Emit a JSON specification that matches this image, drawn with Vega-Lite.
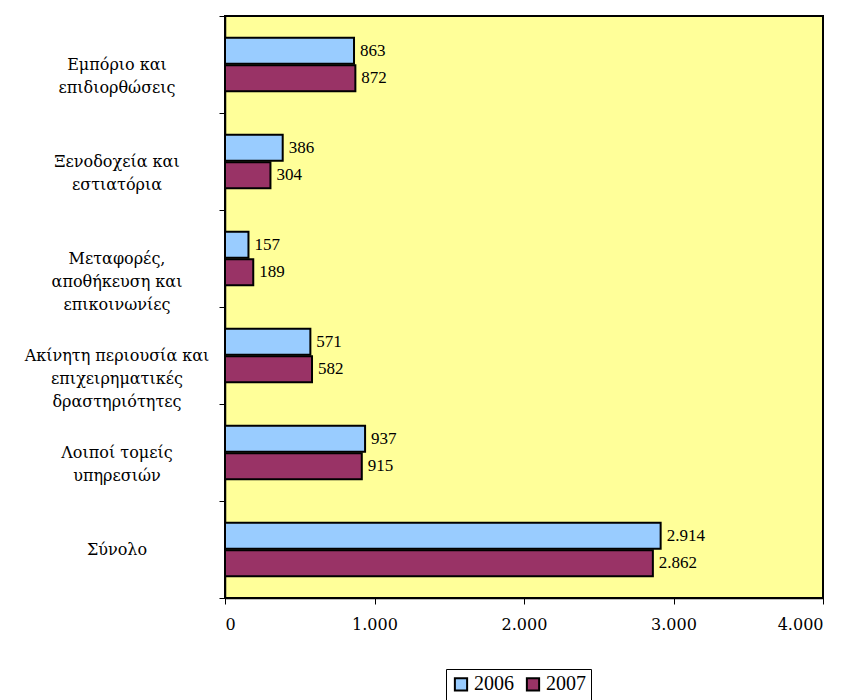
{
  "$schema": "https://vega.github.io/schema/vega-lite/v6.json",
  "width": 598,
  "height": 582,
  "autosize": "none",
  "padding": {"left": 225, "top": 16, "right": 27, "bottom": 102},
  "background": "white",
  "config": {
    "font": "Liberation Serif",
    "locale": {"number": {"decimal": ",", "thousands": ".", "grouping": [3], "currency": ["", " €"]}},
    "view": {"fill": "#FFFF99", "stroke": "black", "strokeWidth": 2}
  },
  "data": {
    "values": [
      {"cat": "Εμπόριο και|επιδιορθώσεις", "year": "2006", "value": 863},
      {"cat": "Εμπόριο και|επιδιορθώσεις", "year": "2007", "value": 872},
      {"cat": "Ξενοδοχεία και|εστιατόρια", "year": "2006", "value": 386},
      {"cat": "Ξενοδοχεία και|εστιατόρια", "year": "2007", "value": 304},
      {"cat": "Μεταφορές,|αποθήκευση και|επικοινωνίες", "year": "2006", "value": 157},
      {"cat": "Μεταφορές,|αποθήκευση και|επικοινωνίες", "year": "2007", "value": 189},
      {"cat": "Ακίνητη περιουσία και|επιχειρηματικές|δραστηριότητες", "year": "2006", "value": 571},
      {"cat": "Ακίνητη περιουσία και|επιχειρηματικές|δραστηριότητες", "year": "2007", "value": 582},
      {"cat": "Λοιποί τομείς|υπηρεσιών", "year": "2006", "value": 937},
      {"cat": "Λοιποί τομείς|υπηρεσιών", "year": "2007", "value": 915},
      {"cat": "Σύνολο", "year": "2006", "value": 2914},
      {"cat": "Σύνολο", "year": "2007", "value": 2862}
    ]
  },
  "encoding": {
    "y": {
      "field": "cat", "type": "nominal", "sort": null,
      "scale": {"paddingInner": 0, "paddingOuter": 0},
      "axis": {
        "title": null,
        "labels": false,
        "tickBand": "extent",
        "tickColor": "black",
        "tickSize": 6,
        "domainColor": "black",
        "domainWidth": 1.5
      }
    },
    "x": {
      "field": "value", "type": "quantitative",
      "scale": {"domain": [0, 4000], "nice": false},
      "axis": {
        "title": null,
        "values": [0, 1000, 2000, 3000, 4000],
        "format": ",d",
        "grid": false,
        "labelFont": "DejaVu Serif",
        "labelFontSize": 16,
        "labelColor": "black",
        "labelPadding": 12,
        "tickColor": "black",
        "tickSize": 6,
        "domainColor": "black",
        "domainWidth": 1.5
      }
    }
  },
  "layer": [
    {
      "mark": {"type": "bar", "stroke": "black", "strokeWidth": 2},
      "encoding": {
        "yOffset": {"field": "year", "type": "nominal", "scale": {"paddingInner": 0.05, "paddingOuter": 0.79}},
        "color": {
          "field": "year", "type": "nominal",
          "scale": {"domain": ["2006", "2007"], "range": ["#99CCFF", "#993366"]},
          "legend": {
            "title": null,
            "orient": "none",
            "direction": "horizontal",
            "legendX": 221,
            "legendY": 653,
            "symbolType": "square",
            "symbolSize": 150,
            "symbolStrokeColor": "black",
            "symbolStrokeWidth": 2,
            "labelFont": "Liberation Serif",
            "labelFontSize": 20,
            "labelColor": "black",
            "labelOffset": 3,
            "columnPadding": 8,
            "strokeColor": "black",
            "padding": 5
          }
        }
      }
    },
    {
      "mark": {"type": "text", "align": "left", "dx": 6, "fontSize": 17, "color": "black", "font": "Liberation Serif"},
      "encoding": {
        "yOffset": {"field": "year", "type": "nominal"},
        "text": {"field": "value", "type": "quantitative", "format": ",d"}
      }
    },
    {
      "transform": [{"filter": "datum.year == '2006'"}],
      "mark": {"type": "text", "align": "center", "baseline": "middle", "dx": -108, "fontSize": 16, "lineHeight": 23, "lineBreak": "|", "color": "black", "font": "DejaVu Serif"},
      "encoding": {
        "x": {"datum": 0, "type": "quantitative"},
        "text": {"field": "cat", "type": "nominal"}
      }
    }
  ]
}
